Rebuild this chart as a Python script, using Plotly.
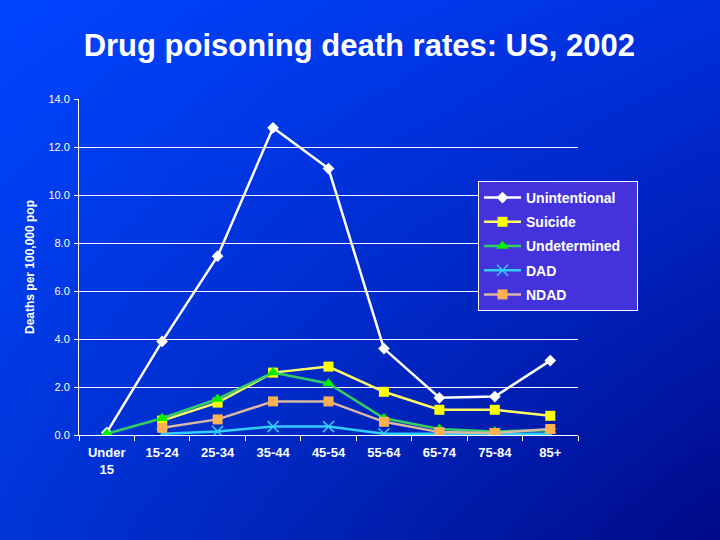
import zlib, struct, base64
import plotly.graph_objects as go

# ---- data ----
categories = ["Under<br>15", "15-24", "25-34", "35-44", "45-54", "55-64", "65-74", "75-84", "85+"]
series_names = ["Unintentional", "Suicide", "Undetermined", "DAD", "NDAD"]
unintentional = [0.1, 3.9, 7.45, 12.8, 11.1, 3.6, 1.55, 1.6, 3.1]
suicide = [None, 0.6, 1.35, 2.6, 2.85, 1.8, 1.05, 1.05, 0.8]
undetermined = [0.05, 0.7, 1.5, 2.6, 2.15, 0.7, 0.25, 0.15, 0.2]
dad = [None, 0.05, 0.15, 0.35, 0.35, 0.05, 0.05, 0.05, 0.05]
ndad = [None, 0.3, 0.65, 1.4, 1.4, 0.55, 0.12, 0.08, 0.25]
y_ticks = [0, 2, 4, 6, 8, 10, 12, 14]

W, H = 720, 540

# ---- background gradient image (pure python PNG) ----
def gradient_png(w, h):
    tl = (0, 68, 255); tr = (0, 48, 222); bl = (0, 53, 216); br = (0, 10, 136)
    rows = []
    for j in range(h):
        v = j / (h - 1)
        row = bytearray([0])
        for i in range(w):
            u = i / (w - 1)
            px = []
            for k in range(3):
                top = tl[k] * (1 - u) + tr[k] * u
                bot = bl[k] * (1 - u) + br[k] * u
                px.append(int(round(top * (1 - v) + bot * v)))
            row.extend(px)
        rows.append(bytes(row))
    raw = b"".join(rows)

    def chunk(tag, data):
        c = struct.pack(">I", len(data)) + tag + data
        return c + struct.pack(">I", zlib.crc32(tag + data) & 0xffffffff)

    png = b"\x89PNG\r\n\x1a\n"
    png += chunk(b"IHDR", struct.pack(">IIBBBBB", w, h, 8, 2, 0, 0, 0))
    png += chunk(b"IDAT", zlib.compress(raw, 9))
    png += chunk(b"IEND", b"")
    return "data:image/png;base64," + base64.b64encode(png).decode()

bg = gradient_png(96, 72)

FONT = "Arial, Liberation Sans, sans-serif"
L, R, T, B = 79, 142, 99, 105
PW, PH = W - L - R, H - T - B

fig = go.Figure()

styles = [
    ("#ffffff", "#ffffff", "diamond", 9, None),
    ("#ffff66", "#ffff00", "square", 10, None),
    ("#33cc66", "#00ee00", "triangle-up", 11, None),
    ("#33ccff", "#33ccff", "x-thin", 11, 1.5),
    ("#d9b8a6", "#ffb050", "square", 10, None),
]
values = [unintentional, suicide, undetermined, dad, ndad]

for name, vals, (lc, mc, sym, sz, mlw) in zip(series_names, values, styles):
    marker = dict(symbol=sym, size=sz, color=mc)
    if mlw:
        marker["line"] = dict(color=mc, width=mlw)
    else:
        marker["line"] = dict(width=0)
    label = name + ("&nbsp;&nbsp;&nbsp;" if name == "Undetermined" else "")
    fig.add_trace(go.Scatter(
        x=categories, y=vals, name=label, mode="lines+markers",
        line=dict(color=lc, width=2.5), marker=marker,
        legendgroup=name, connectgaps=False,
    ))

fig.update_layout(
    width=W, height=H,
    margin=dict(l=L, r=R, t=T, b=B, autoexpand=False),
    paper_bgcolor="#0030d0",
    plot_bgcolor="rgba(0,0,0,0)",
    images=[dict(source=bg, xref="paper", yref="paper", x=-L/PW, y=1+T/PH,
                 sizex=W/PW, sizey=H/PH, sizing="stretch",
                 xanchor="left", yanchor="top", layer="below")],
    title=dict(text="<b>Drug poisoning death rates: US, 2002</b>",
               x=0.499, xref="container", xanchor="center",
               y=1 - 45/540, yref="container", yanchor="middle",
               font=dict(family=FONT, size=31, color="white")),
    font=dict(family=FONT, color="white"),
    showlegend=True,
    legend=dict(xref="container", yref="container",
                x=478/720, y=1 - 181/540, xanchor="left", yanchor="top",
                bgcolor="#4433dd", bordercolor="white", borderwidth=1,
                font=dict(family=FONT, size=14, color="white", weight="bold"),
                tracegroupgap=3, itemwidth=37),
    xaxis=dict(type="category", range=[-0.5, 8.5], showgrid=False,
               showline=True, linecolor="white", linewidth=1,
               ticks="outside", tickson="boundaries", ticklen=5, tickcolor="white",
               tickangle=0, ticklabelstandoff=5,
               tickfont=dict(family=FONT, size=13, color="white", weight="bold"),
               fixedrange=True),
    yaxis=dict(range=[0, 14], tickvals=y_ticks, tickformat=".1f",
               showgrid=True, gridcolor="white", gridwidth=1,
               showline=True, linecolor="white", linewidth=1, zeroline=False,
               ticks="outside", ticklen=4, tickcolor="white", ticklabelstandoff=2,
               tickfont=dict(family=FONT, size=11, color="white"),
               title=dict(text="<b>Deaths per 100,000 pop</b>", standoff=11,
                          font=dict(family=FONT, size=12, color="white")),
               fixedrange=True),
)

fig.write_html("out.html", config={"displayModeBar": False},
               post_script="document.body.style.margin='0';document.body.style.padding='0';document.body.style.overflow='hidden';")
